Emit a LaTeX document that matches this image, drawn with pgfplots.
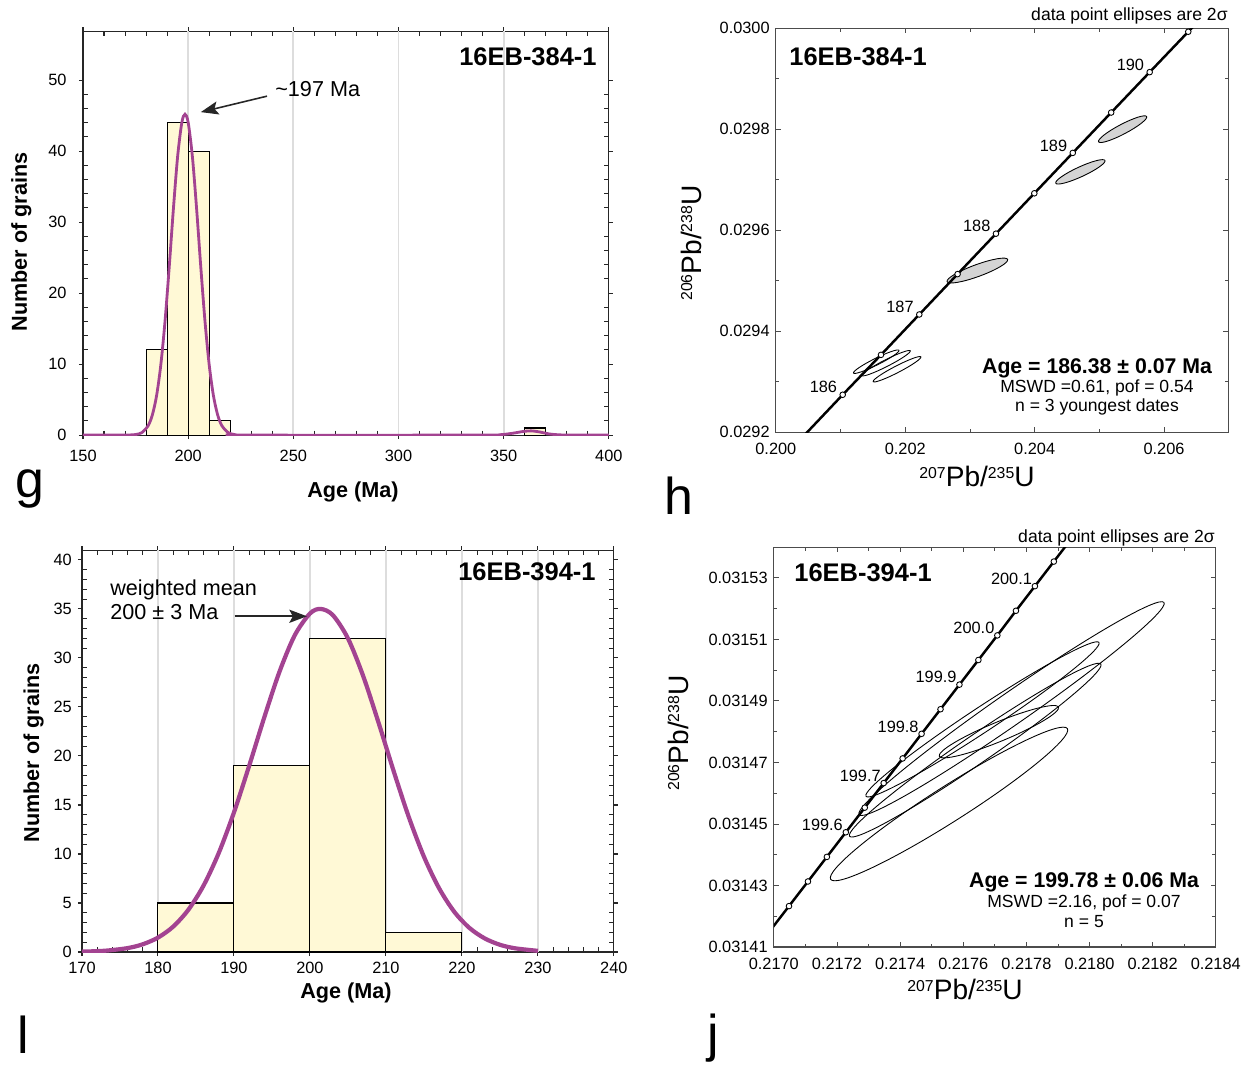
\documentclass[border=0pt]{standalone}
\usepackage{fontspec}
\setmainfont{Liberation Sans}
\usepackage{pgfplots}
\pgfplotsset{compat=1.18}
\usetikzlibrary{calc,arrows.meta}

\definecolor{histfill}{RGB}{255,249,214}
\definecolor{kde}{RGB}{163,67,145}
\definecolor{ellgrey}{RGB}{212,212,212}
\definecolor{gridgrey}{RGB}{221,221,221}

\newcommand\fTick{\fontsize{9.3}{11}\selectfont}
\newcommand\fLab{\fontsize{12.3}{14}\selectfont\bfseries}
\newcommand\fTitle{\fontsize{14.5}{17}\selectfont\bfseries}
\newcommand\fAnn{\fontsize{12.3}{14}\selectfont}
\newcommand\fAge{\fontsize{12.1}{14}\selectfont\bfseries}
\newcommand\fSmall{\fontsize{10}{12}\selectfont}
\newcommand\fLetter{\fontsize{29.5}{32}\selectfont}
\newcommand\pbu[2]{{\fontsize{16}{18}\selectfont\raisebox{5pt}{\fontsize{9}{10}\selectfont #1}Pb/\raisebox{5pt}{\fontsize{9}{10}\selectfont #2}U}}

% error ellipse from the two ends of its long axis (data) and its half width
\newcommand{\errellipse}[6]{%
  \draw[fill=#1, line width=0.5pt] let \p1=(axis cs:#2,#3), \p2=(axis cs:#4,#5),
    \n1={atan2(\y2-\y1,\x2-\x1)}, \n2={veclen(\x2-\x1,\y2-\y1)/2} in
    ($(\p1)!0.5!(\p2)$) ellipse [x radius=\n2, y radius=#6, rotate=\n1];}

\pgfplotsset{
  /pgf/number format/assume math mode=true,
  every axis/.append style={scale only axis, anchor=south west,
    axis line style={line width=0.6pt}, tick label style={font=\fTick}},
  hist/.style={tick align=outside, major tick length=2.3pt, minor tick length=-2.6pt,
    axis line style={black!85}, tick style={black!85, line width=0.6pt}},
  conc/.style={tick align=inside, major tick length=3pt, minor tick length=2pt,
    axis line style={black!70}, tick style={black!70, line width=0.5pt},
    scaled ticks=false, xticklabel style={yshift=-2.5pt}},
}

\begin{document}
\begin{tikzpicture}[x=0.02cm,y=0.02cm]
\useasboundingbox (0,0) rectangle (1255,1065);

% ---------------- g ----------------
\begin{axis}[hist, at={(1.66cm,12.60cm)}, width=10.52cm, height=8.08cm,
  xmin=150, xmax=400, ymin=0, ymax=56.9,
  xtick={150,200,250,300,350,400}, ytick={0,10,20,30,40,50},
  minor x tick num=4, minor y tick num=4,
  xticklabel style={yshift=-2.5pt}, yticklabel style={xshift=-3.5pt}]
\foreach \g in {200,250,300,350}{
  \edef\tmp{\noexpand\draw[gridgrey, line width=1.1pt] (axis cs:\g,0) -- (axis cs:\g,56.9);}\tmp}
\addplot[ybar interval, fill=histfill, draw=black, line width=0.6pt]
  coordinates {(180,12) (190,44) (200,40) (210,2) (220,0)};
\addplot[ybar interval, fill=histfill, draw=black, line width=0.6pt]
  coordinates {(360,1) (370,0)};
\addplot[kde, line width=1.6pt, smooth] coordinates {
  (150,0) (165,0) (170,0.005) (175,0.08) (178,0.36) (181,1.34) (183,2.87) (185,5.58)
  (187,9.90) (189,16.04) (191,23.70) (193,31.94) (195,39.27) (197,44.05) (198.5,45.2)
  (200,44.05) (202,39.27) (204,31.94) (206,23.70) (208,16.04) (210,9.90) (212,5.58)
  (214,2.87) (216,1.34) (219,0.36) (222,0.08) (226,0) (340,0) (348,0.05) (354,0.25)
  (359,0.5) (363,0.6) (367,0.45) (372,0.15) (378,0.02) (385,0) (400,0)};
\draw[-{Stealth[length=10pt,width=7.5pt,inset=2pt]}, line width=0.9pt, black!85]
  (axis cs:237.5,47.75) -- (axis cs:206,45.5);
\end{axis}

% ---------------- h ----------------
\begin{axis}[conc, at={(15.52cm,12.66cm)}, width=9.06cm, height=8.08cm,
  xmin=0.200, xmax=0.207, ymin=0.0292, ymax=0.0300,
  xtick={0.200,0.202,0.204,0.206}, xticklabels={0.200,0.202,0.204,0.206},
  minor xtick={0.201,0.203,0.205},
  ytick={0.0292,0.0294,0.0296,0.0298,0.0300},
  yticklabels={0.0292,0.0294,0.0296,0.0298,0.0300},
  minor ytick={0.0293,0.0295,0.0297,0.0299}]
\errellipse{none}{0.201200}{0.029317}{0.201903}{0.029362}{1.9pt}
\errellipse{none}{0.201329}{0.029312}{0.202078}{0.029361}{1.9pt}
\errellipse{none}{0.201504}{0.029300}{0.202242}{0.029349}{1.9pt}
\errellipse{ellgrey}{0.202646}{0.029498}{0.203583}{0.029542}{3.4pt}
\errellipse{ellgrey}{0.204326}{0.029693}{0.205087}{0.029738}{2.8pt}
\errellipse{ellgrey}{0.204988}{0.029775}{0.205731}{0.029825}{2.8pt}
\addplot[black, line width=1.4pt] coordinates {
  (0.200442,0.029194) (0.201033,0.029274) (0.201625,0.029353) (0.202217,0.029433)
  (0.202809,0.029513) (0.203402,0.029593) (0.203995,0.029673) (0.204589,0.029753)
  (0.205183,0.029833) (0.205778,0.029913) (0.206374,0.029993) (0.206672,0.030033)};
\addplot[only marks, mark=*, mark size=1.6pt, mark options={fill=white, draw=black, line width=0.5pt}]
  coordinates {
  (0.201033,0.029274) (0.201625,0.029353) (0.202217,0.029433) (0.202809,0.029513)
  (0.203402,0.029593) (0.203995,0.029673) (0.204589,0.029753) (0.205183,0.029833)
  (0.205778,0.029913) (0.206374,0.029993)};
\foreach \xx/\yy/\tt in {0.201033/0.029274/186, 0.202217/0.029433/187, 0.203402/0.029593/188,
  0.204589/0.029753/189, 0.205778/0.029913/190}{
  \edef\tmp{\noexpand\node[anchor=base east, font=\noexpand\fTick, inner sep=0pt, xshift=-3pt, yshift=1pt]
    at (axis cs:\xx,\yy) {\tt};}\tmp}
\end{axis}

% ---------------- l ----------------
\begin{axis}[hist, at={(1.64cm,2.26cm)}, width=10.64cm, height=8.04cm,
  xmin=170, xmax=240, ymin=0, ymax=41,
  xtick={170,180,...,240}, ytick={0,5,...,40},
  minor x tick num=4, minor y tick num=4]
\foreach \g in {180,190,200,210,220,230}{
  \edef\tmp{\noexpand\draw[gridgrey, line width=1.1pt] (axis cs:\g,0) -- (axis cs:\g,41);}\tmp}
\addplot[ybar interval, fill=histfill, draw=black, line width=0.6pt]
  coordinates {(180,5) (190,19) (200,32) (210,2) (220,0)};
\addplot[kde, line width=2.4pt, smooth] coordinates {
  (170,0.04) (173,0.13) (176,0.40) (178,0.79) (180,1.47) (182,2.59) (184,4.31) (186,6.78)
  (188,10.10) (190,14.24) (192,18.99) (194,23.96) (196,28.61) (198,32.31) (200,34.53)
  (201.4,35) (203,34.38) (205,32.00) (207,28.17) (209,23.47) (211,18.50) (213,13.79)
  (215,9.73) (217,6.50) (219,4.10) (221,2.45) (223,1.39) (225,0.74) (227,0.38) (230,0.12)};
\draw[-{Stealth[length=10pt,width=7.5pt,inset=2pt]}, line width=0.9pt, black!85]
  (axis cs:190.1,34.25) -- (axis cs:199.6,34.25);
\end{axis}

% ---------------- j ----------------
\begin{axis}[conc, at={(15.48cm,2.36cm)}, width=8.84cm, height=8.0cm,
  xmin=0.2170, xmax=0.2184, ymin=0.03141, ymax=0.03154,
  xtick={0.2170,0.2172,0.2174,0.2176,0.2178,0.2180,0.2182,0.2184},
  xticklabels={0.2170,0.2172,0.2174,0.2176,0.2178,0.2180,0.2182,0.2184},
  minor xtick={0.2171,0.2173,0.2175,0.2177,0.2179,0.2181,0.2183},
  ytick={0.03141,0.03143,0.03145,0.03147,0.03149,0.03151,0.03153},
  yticklabels={0.03141,0.03143,0.03145,0.03147,0.03149,0.03151,0.03153},
  minor ytick={0.03142,0.03144,0.03146,0.03148,0.03150,0.03152,0.03154}]
\errellipse{none}{0.217180}{0.031432}{0.217930}{0.031481}{10pt}
\errellipse{none}{0.217270}{0.031453}{0.218236}{0.031522}{9pt}
\errellipse{none}{0.217292}{0.031459}{0.218030}{0.031509}{7pt}
\errellipse{none}{0.217240}{0.031446}{0.218036}{0.031502}{8pt}
\errellipse{none}{0.217524}{0.031472}{0.217902}{0.031488}{5.5pt}
\addplot[black, line width=1.4pt] coordinates {
  (0.216928,0.0314073) (0.216988,0.0314153) (0.217048,0.0314233) (0.217108,0.0314313)
  (0.217168,0.0314393) (0.217228,0.0314473) (0.217288,0.0314553) (0.217348,0.0314633)
  (0.217408,0.0314713) (0.217468,0.0314793) (0.217528,0.0314873) (0.217588,0.0314953)
  (0.217648,0.0315033) (0.217708,0.0315113) (0.217767,0.0315193) (0.217827,0.0315273)
  (0.217887,0.0315353) (0.217947,0.0315433) (0.218007,0.0315513)};
\addplot[only marks, mark=*, mark size=1.6pt, mark options={fill=white, draw=black, line width=0.5pt}]
  coordinates {
  (0.217048,0.0314233) (0.217108,0.0314313) (0.217168,0.0314393) (0.217228,0.0314473)
  (0.217288,0.0314553) (0.217348,0.0314633) (0.217408,0.0314713) (0.217468,0.0314793)
  (0.217528,0.0314873) (0.217588,0.0314953) (0.217648,0.0315033) (0.217708,0.0315113)
  (0.217767,0.0315193) (0.217827,0.0315273) (0.217887,0.0315353)};
\foreach \xx/\yy/\tt in {0.217228/0.0314473/199.6, 0.217348/0.0314633/199.7,
  0.217468/0.0314793/199.8, 0.217588/0.0314953/199.9, 0.217708/0.0315113/200.0,
  0.217827/0.0315273/200.1}{
  \edef\tmp{\noexpand\node[anchor=base east, font=\noexpand\fTick, inner sep=0pt, xshift=-1.5pt, yshift=1pt]
    at (axis cs:\xx,\yy) {\tt};}\tmp}
\end{axis}

% ---------------- texts ----------------
% g
\node[anchor=base, font=\fLab] at (353,567) {Age (Ma)};
\node[anchor=base, rotate=90, font=\fLab] at (27,823) {Number of grains};
\node[anchor=base west, font=\fLetter, inner sep=0pt] at (15,567) {g};
\node[anchor=base east, font=\fTitle, inner sep=0pt] at (597,999) {16EB-384-1};
\node[anchor=base west, font=\fAnn, inner sep=0pt] at (275,968) {\textasciitilde197 Ma};
% h
\node[anchor=base east, font=\fSmall, inner sep=0pt] at (1228,1044) {data point ellipses are 2σ};
\node[anchor=base] at (977,578) {\pbu{207}{235}};
\node[anchor=base, rotate=90] at (701,822) {\pbu{206}{238}};
\node[anchor=base west, font=\fLetter, inner sep=0pt] at (664,550) {h};
\node[anchor=base west, font=\fTitle, inner sep=0pt] at (789,999) {16EB-384-1};
\node[anchor=base, font=\fAge, inner sep=0pt] at (1097,691) {Age = 186.38 ± 0.07 Ma};
\node[anchor=base, font=\fSmall, inner sep=0pt] at (1097,672) {MSWD =0.61, pof = 0.54};
\node[anchor=base, font=\fSmall, inner sep=0pt] at (1097,653) {n = 3 youngest dates};
% l
\node[anchor=base, font=\fLab] at (346,66) {Age (Ma)};
\node[anchor=base, rotate=90, font=\fLab] at (39,312) {Number of grains};
\node[anchor=base west, font=\fLetter, inner sep=0pt] at (17,11) {l};
\node[anchor=base east, font=\fTitle, inner sep=0pt] at (596,484) {16EB-394-1};
\node[anchor=base west, font=\fAnn, inner sep=0pt] at (110,469) {weighted mean};
\node[anchor=base west, font=\fAnn, inner sep=0pt] at (110,445) {200 ± 3 Ma};
% j
\node[anchor=base east, font=\fSmall, inner sep=0pt] at (1215,522) {data point ellipses are 2σ};
\node[anchor=base] at (965,65) {\pbu{207}{235}};
\node[anchor=base, rotate=90] at (688,332) {\pbu{206}{238}};
\node[anchor=base west, font=\fLetter, inner sep=0pt] at (707,13) {j};
\node[anchor=base west, font=\fTitle, inner sep=0pt] at (794,483) {16EB-394-1};
\node[anchor=base, font=\fAge, inner sep=0pt] at (1084,177) {Age = 199.78 ± 0.06 Ma};
\node[anchor=base, font=\fSmall, inner sep=0pt] at (1084,157) {MSWD =2.16, pof = 0.07};
\node[anchor=base, font=\fSmall, inner sep=0pt] at (1084,137) {n = 5};
\end{tikzpicture}
\end{document}
